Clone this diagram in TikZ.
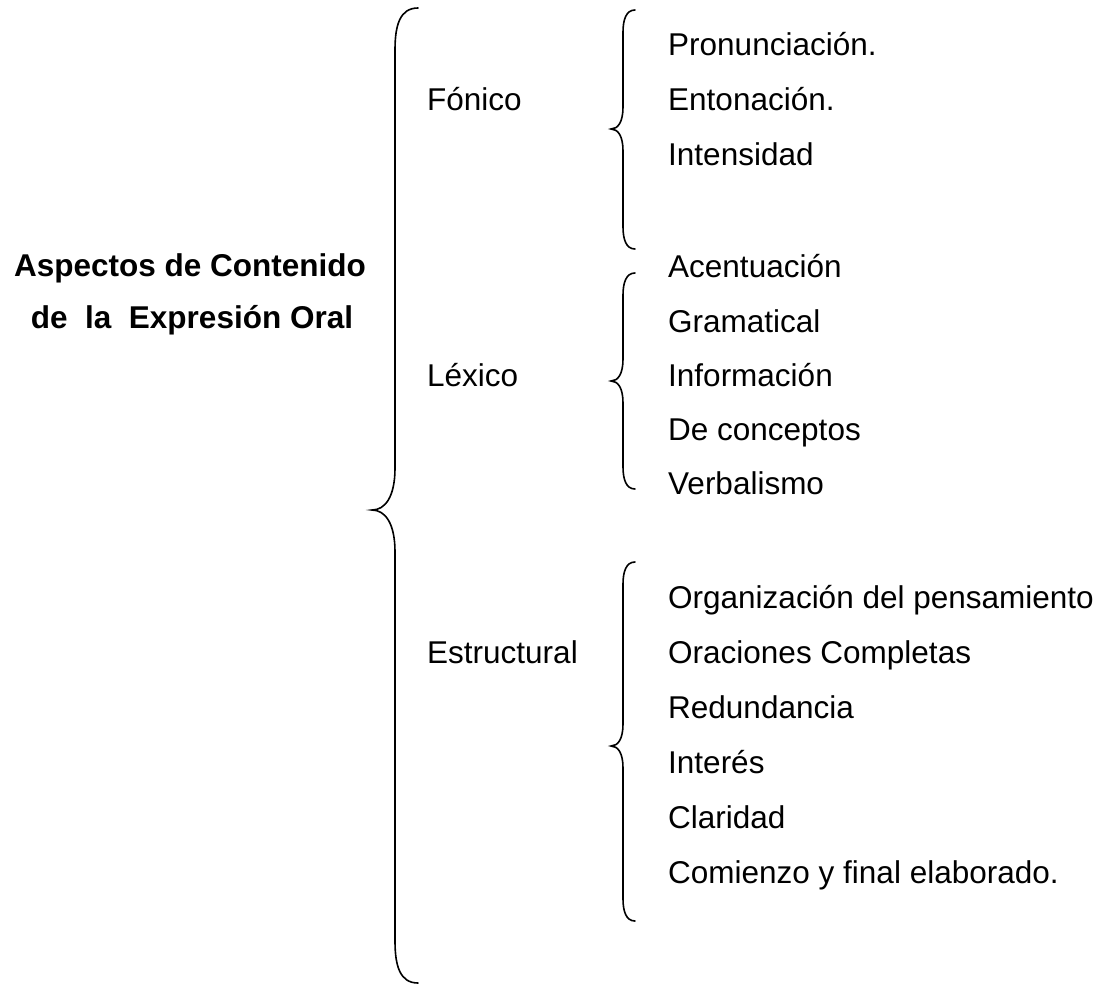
\documentclass[tikz,border=0pt]{standalone}
\usepackage{fontspec}
\setmainfont{Liberation Sans}
\begin{document}
\begin{tikzpicture}
[x=1pt,y=-1pt,
  textdecorate/.style={anchor=base west,inner sep=0pt,font=\fontsize{31.5pt}{38pt}\selectfont},%
  titledecorate/.style={anchor=base,inner sep=0pt,font=\fontsize{31.5pt}{38pt}\selectfont\bfseries},%
  bracedecorate/.style={line width=1.6pt,line cap=round}]
\useasboundingbox (0,0) rectangle (1110,991);
% title
\node (t1) at (190,276) [titledecorate] {Aspectos de Contenido};
\node (t2) at (192,328) [titledecorate] {de\ \ la\ \ Expresión Oral};
% first level
\node (fon) at (427,110) [textdecorate] {Fónico};
\node (lex) at (427,386) [textdecorate] {Léxico};
\node (est) at (427,663) [textdecorate] {Estructural};
% second level
\node (pron) at (668,55) [textdecorate] {Pronunciación.};
\node (ento) at (668,110) [textdecorate] {Entonación.};
\node (inte) at (668,165) [textdecorate] {Intensidad};
\node (acen) at (668,277) [textdecorate] {Acentuación};
\node (gram) at (668,332) [textdecorate] {Gramatical};
\node (info) at (668,386) [textdecorate] {Información};
\node (conc) at (668,440) [textdecorate] {De conceptos};
\node (verb) at (668,494) [textdecorate] {Verbalismo};
\node (orga) at (668,608) [textdecorate] {Organización del pensamiento};
\node (orac) at (668,663) [textdecorate] {Oraciones Completas};
\node (redu) at (668,718) [textdecorate] {Redundancia};
\node (inter) at (668,773) [textdecorate] {Interés};
\node (clar) at (668,828) [textdecorate] {Claridad};
\node (comi) at (668,883) [textdecorate] {Comienzo y final elaborado.};
% braces
\draw[bracedecorate] (418,8) .. controls (400,8) and (395,25) .. (395,50)
  -- (395,468) .. controls (395,497) and (385,510) .. (372,510)
  .. controls (385,510) and (395,523) .. (395,552)
  -- (395,941) .. controls (395,966) and (400,983) .. (418,983);
\draw[bracedecorate] (635,10) .. controls (626,10) and (623,20) .. (623,32)
  -- (623,107) .. controls (623,122) and (618,129) .. (611,129)
  .. controls (618,129) and (623,136) .. (623,151)
  -- (623,227) .. controls (623,239) and (626,249) .. (635,249);
\draw[bracedecorate] (635,273) .. controls (626,273) and (623,283) .. (623,295)
  -- (623,359) .. controls (623,374) and (618,381) .. (611,381)
  .. controls (618,381) and (623,388) .. (623,403)
  -- (623,467) .. controls (623,479) and (626,489) .. (635,489);
\draw[bracedecorate] (635,562) .. controls (626,562) and (623,572) .. (623,584)
  -- (623,724) .. controls (623,739) and (618,746) .. (611,746)
  .. controls (618,746) and (623,753) .. (623,768)
  -- (623,899) .. controls (623,911) and (626,921) .. (635,921);
\end{tikzpicture}
\end{document}
